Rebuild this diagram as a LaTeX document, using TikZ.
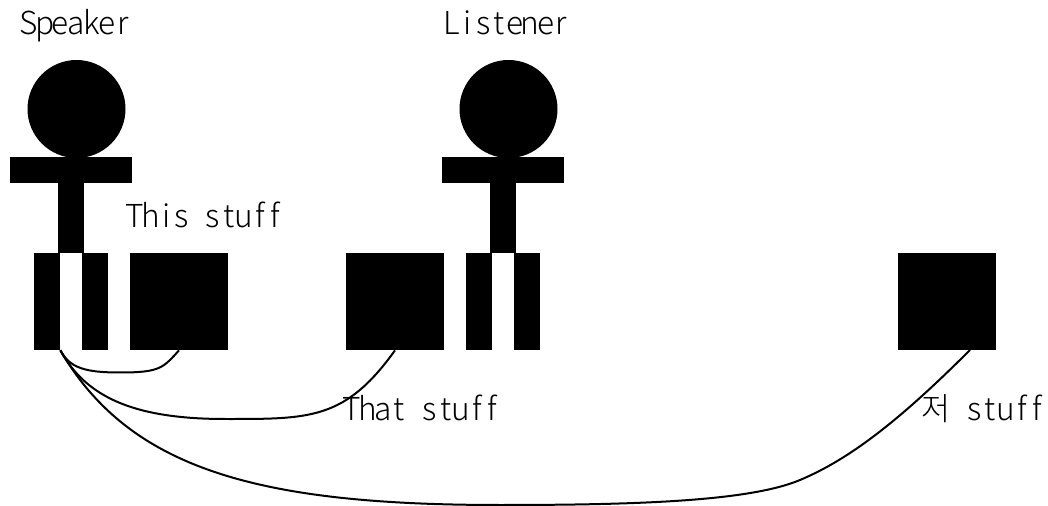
\documentclass[tikz,border=0pt]{standalone}
\usepackage{fontspec}
\setmainfont{Noto Sans CJK KR Light}
\newlength{\cellw}
\setlength{\cellw}{0.312cm}
\def\cellsnext#1{\ifx#1\relax\else\makebox[\cellw][c]{#1}\expandafter\cellsnext\fi}
\def\cells#1{\cellsnext#1\relax}
\tikzset{
bar/.style={fill=black,inner sep=0pt,minimum width=#1*0.02cm},
part/.style={bar=#1,minimum height=0.02cm*97},
label/.style={anchor=base west,inner sep=0pt,font=\fontsize{18}{18}\selectfont},
link/.style={line width=0.04cm}
}
\begin{document}
\begin{tikzpicture}[x=0.02cm,y=-0.02cm]
\useasboundingbox (0,0) rectangle (1048,506);
\node[label] (speaker) at (21,35) {\cells{Speaker}};
\node[label] (listener) at (444,35) {\cells{Listener}};
\node[label] (this) at (127,228) {\cells{This~stuff}};
\node[label] (that) at (344,420) {\cells{That~stuff}};
\node[label] (jeo) at (920,420) {\makebox[2\cellw][c]{저}\cells{~stuff}};
\node[circle,fill=black,inner sep=0pt,minimum size=0.02cm*98] (headA) at (76.5,109) {};
\node[bar=122,minimum height=0.02cm*26] (armsA) at (71,170) {};
\node[bar=26,minimum height=0.02cm*96] (bodyA) at (71,205) {};
\node[part=26] (legA) at (47,301.5) {};
\node[part=26] (legB) at (95,301.5) {};
\node[circle,fill=black,inner sep=0pt,minimum size=0.02cm*98] (headB) at (508.5,109) {};
\node[bar=122,minimum height=0.02cm*26] (armsB) at (503,170) {};
\node[bar=26,minimum height=0.02cm*96] (bodyB) at (503,205) {};
\node[part=26] (legC) at (479,301.5) {};
\node[part=26] (legD) at (527,301.5) {};
\node[part=98] (boxA) at (179,301.5) {};
\node[part=98] (boxB) at (395,301.5) {};
\node[part=98] (boxC) at (947,301.5) {};
\coordinate (tipC) at (970,350);
\draw[link] (legA.south east) .. controls (70,368) and (85,372.5) .. (120,372.5) .. controls (160,372.5) and (163,368) .. (boxA.south);
\draw[link] (legA.south east) .. controls (85,395) and (130,419) .. (225,419) .. controls (310,419) and (345,420) .. (boxB.south);
\draw[link] (legA.south east) .. controls (130,470) and (260,505) .. (500,505) .. controls (640,505) and (750,501) .. (800,480) .. controls (850,459) and (900,420) .. (tipC);
\end{tikzpicture}
\end{document}
